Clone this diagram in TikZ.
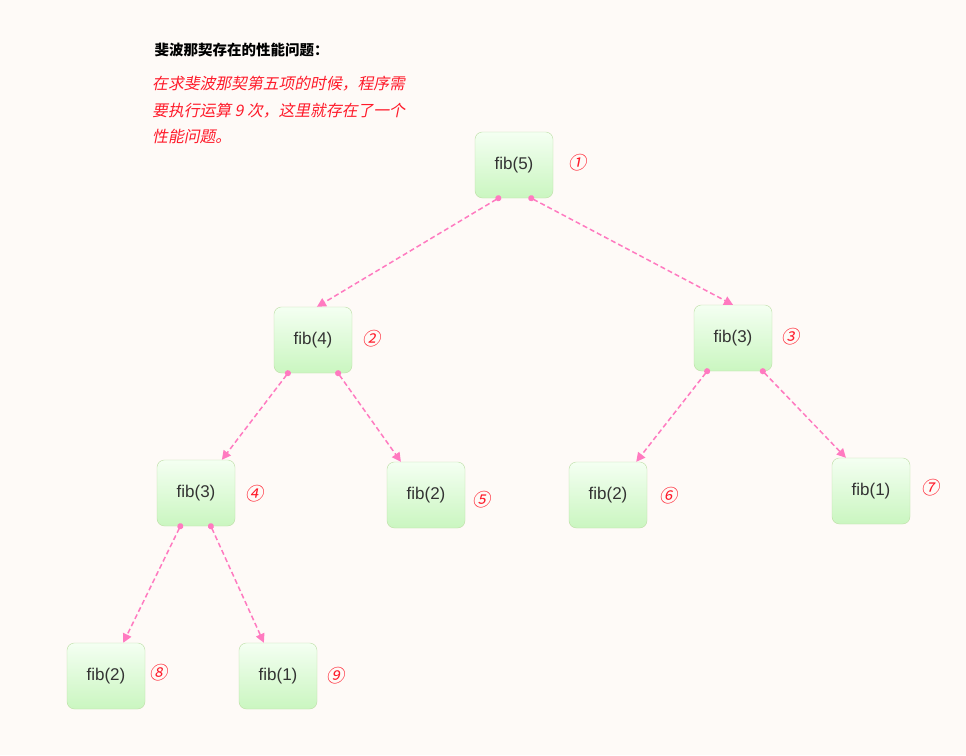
\documentclass[tikz,border=0pt]{standalone}
\usepackage{fontspec}
\setmainfont{Liberation Sans}
\newfontfamily\cjk{Noto Sans CJK SC}
\newfontfamily\cjkslant[FakeSlant=0.2]{Noto Sans CJK SC}
\usetikzlibrary{
  arrows.meta,
  calc,         % Points on node sides $(a)!t!(b)$
  positioning,
}
\definecolor{pagebg}{HTML}{FEFAF7}
\definecolor{linkpink}{HTML}{FF7AC0}
\definecolor{boxline}{HTML}{BCDDA4}
\definecolor{boxtop}{HTML}{F4FFF2}
\definecolor{boxbottom}{HTML}{CAF6C0}
\definecolor{fibtext}{HTML}{333333}
\definecolor{remark}{HTML}{FF1A2A}
\tikzset{
  x=1pt,
  y=-1pt,
  fib node/.style={
    draw=boxline,
    rounded corners=2.6mm,
    minimum width=78pt,
    minimum height=66pt,
    top color=boxtop,
    bottom color=boxbottom,
    text=fibtext,
    font=\fontsize{17}{20}\selectfont
  },
  call/.style={
    draw=linkpink,
    line width=1.5pt,
    dash pattern=on 5pt off 3pt,
    shorten <=-3pt,
    {Circle[length=6pt,fill=linkpink]}-{Triangle[length=9pt,width=9pt,fill=linkpink]}
  },
  order/.style={
    text=remark,
    font=\cjkslant\fontsize{18}{20}\selectfont
  }
}
\begin{document}
\begin{tikzpicture}
\fill[pagebg] (0,0) rectangle (966,755);
% texts
\node[anchor=west,font=\cjk\bfseries\fontsize{14.5}{16}\selectfont] (title) at (151,50)
  {斐波那契存在的性能问题：};
\node[anchor=north west,align=left,text=remark,inner sep=0pt,
  font=\cjkslant\fontsize{15.8}{26.5}\selectfont] (note) at (152,76)
  {在求斐波那契第五项的时候，程序需\\要执行运算 9 次，这里就存在了一个\\性能问题。};
% tree
\node[fib node] (f5)  at (514,165) {fib(5)};
\node[fib node] (f4)  at (313,340) {fib(4)};
\node[fib node] (f3r) at (733,338) {fib(3)};
\node[fib node] (f3l) at (196,493) {fib(3)};
\node[fib node] (f2m) at (426,495) {fib(2)};
\node[fib node] (f2r) at (608,495) {fib(2)};
\node[fib node] (f1r) at (871,491) {fib(1)};
\node[fib node] (f2l) at (106,676) {fib(2)};
\node[fib node] (f1l) at (278,676) {fib(1)};
% call order
\node[order] (o1) at (577,163) {①};
\node[order] (o2) at (371,339) {②};
\node[order] (o3) at (790,337) {③};
\node[order] (o4) at (254,494) {④};
\node[order] (o5) at (481,500) {⑤};
\node[order] (o6) at (668,496) {⑥};
\node[order] (o7) at (930,488) {⑦};
\node[order] (o8) at (158,673) {⑧};
\node[order] (o9) at (335,676) {⑨};
% calls
\draw[call] ($(f5.south west)!0.30!(f5.south east)$) -- ($(f4.north west)!0.55!(f4.north east)$);
\draw[call] ($(f5.south west)!0.72!(f5.south east)$) -- ($(f3r.north west)!0.50!(f3r.north east)$);
\draw[call] ($(f4.south west)!0.18!(f4.south east)$) -- ($(f3l.north west)!0.83!(f3l.north east)$);
\draw[call] ($(f4.south west)!0.82!(f4.south east)$) -- ($(f2m.north west)!0.18!(f2m.north east)$);
\draw[call] ($(f3r.south west)!0.17!(f3r.south east)$) -- ($(f2r.north west)!0.86!(f2r.north east)$);
\draw[call] ($(f3r.south west)!0.88!(f3r.south east)$) -- ($(f1r.north west)!0.18!(f1r.north east)$);
\draw[call] ($(f3l.south west)!0.30!(f3l.south east)$) -- ($(f2l.north west)!0.72!(f2l.north east)$);
\draw[call] ($(f3l.south west)!0.69!(f3l.south east)$) -- ($(f1l.north west)!0.32!(f1l.north east)$);
\end{tikzpicture}
\end{document}
